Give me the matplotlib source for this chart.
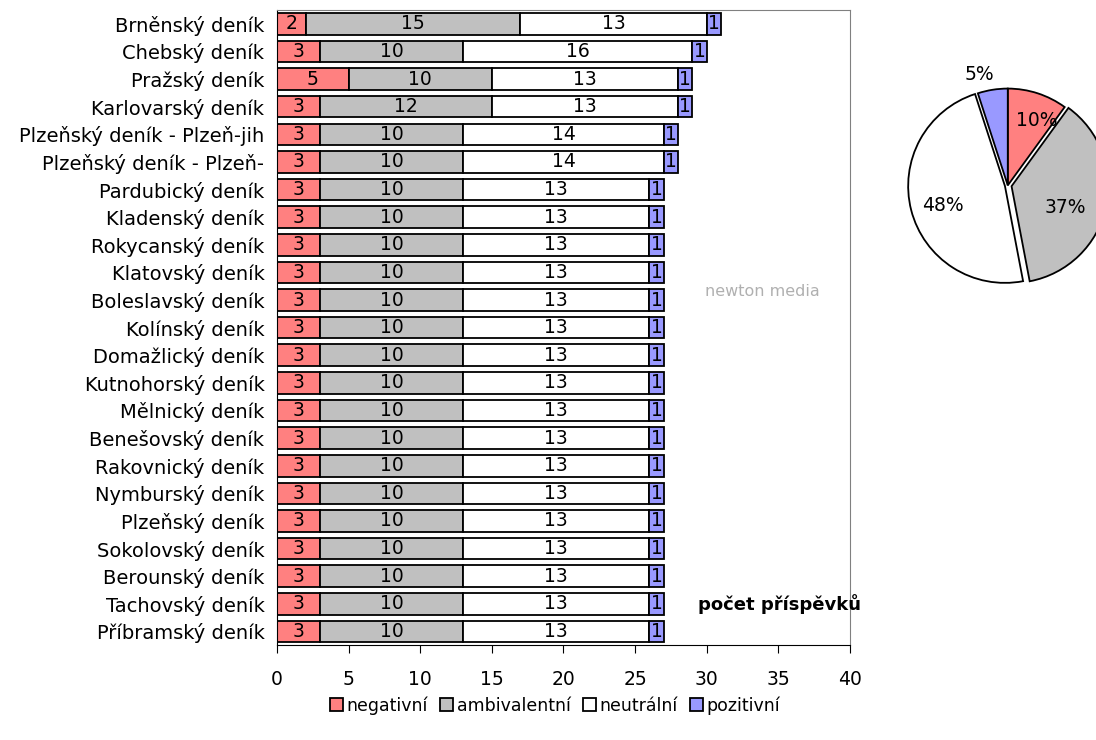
import matplotlib.pyplot as plt
import numpy as np

denik = ['Brněnský deník', 'Chebský deník', 'Pražský deník', 'Karlovarský deník',
         'Plzeňský deník - Plzeň-jih', 'Plzeňský deník - Plzeň-', 'Pardubický deník',
         'Kladenský deník', 'Rokycanský deník', 'Klatovský deník', 'Boleslavský deník',
         'Kolínský deník', 'Domažlický deník', 'Kutnohorský deník', 'Mělnický deník',
         'Benešovský deník', 'Rakovnický deník', 'Nymburský deník', 'Plzeňský deník',
         'Sokolovský deník', 'Berounský deník', 'Tachovský deník', 'Příbramský deník']
negativni = [2, 3, 5, 3, 3, 3] + [3] * 17
ambivalentni = [15, 10, 10, 12, 10, 10] + [10] * 17
neutralni = [13, 16, 13, 13, 14, 14] + [13] * 17
pozitivni = [1, 1, 1, 1, 1, 1] + [1] * 17
kategorie = ['negativní', 'ambivalentní', 'neutrální', 'pozitivní']
barvy = ['#FF8080', '#C0C0C0', '#FFFFFF', '#9999FF']
podily = [10, 37, 48, 5]

plt.rcParams['font.family'] = ['DejaVu Sans']
fs = 13.5

fig = plt.figure(figsize=(10.96, 7.4), dpi=100)
ax = fig.add_axes([0.2527, 0.128, 0.5228, 0.8585])

y = np.arange(len(denik))
left = np.zeros(len(denik))
for vals, name, col in zip([negativni, ambivalentni, neutralni, pozitivni], kategorie, barvy):
    bars = ax.barh(y, vals, left=left, height=0.78, color=col, edgecolor='black',
                   linewidth=1.3, label=name)
    ax.bar_label(bars, label_type='center', fontsize=fs)
    left = left + np.array(vals)

ax.set_xlim(0, 40)
ax.set_ylim(len(denik) - 0.5, -0.5)
ax.set_yticks(y)
ax.set_yticklabels(denik, fontsize=14)
ax.tick_params(axis='y', length=0, pad=9)
ax.set_xticks(range(0, 41, 5))
ax.tick_params(axis='x', direction='out', length=6, labelsize=fs, pad=12)
for s in ['top', 'right']:
    ax.spines[s].set_color('#808080')
ax.spines['left'].set_color('black')
ax.spines['bottom'].set_color('black')

ax.text(29.4, 21, 'počet příspěvků', fontsize=13, fontweight='bold', va='center')
ax.text(33.9, 9.7, 'newton media', fontsize=11.5, color='#b0b0b0', ha='center', va='center')

ax.legend(loc='center', bbox_to_anchor=(0.485, -0.095), ncol=4, frameon=False,
          fontsize=12.5, handlelength=0.75, handleheight=0.75, handletextpad=0.2,
          columnspacing=0.7, borderaxespad=0)

pax = fig.add_axes([0.809, 0.586, 0.221, 0.327])
wedges, texts, autotexts = pax.pie(podily, colors=barvy, startangle=90, counterclock=False,
                                   explode=[0, 0.04, 0.03, 0],
                                   wedgeprops=dict(edgecolor='black', linewidth=1.3),
                                   autopct='%d%%', pctdistance=0.6,
                                   textprops=dict(fontsize=fs))
autotexts[0].set_position((0.3, 0.67))
autotexts[1].set_position((0.59, -0.23))
autotexts[2].set_position((-0.67, -0.21))
autotexts[3].set_position((-0.29, 1.15))
pax.set_aspect('equal')

fig.savefig('out.png', dpi=100)
